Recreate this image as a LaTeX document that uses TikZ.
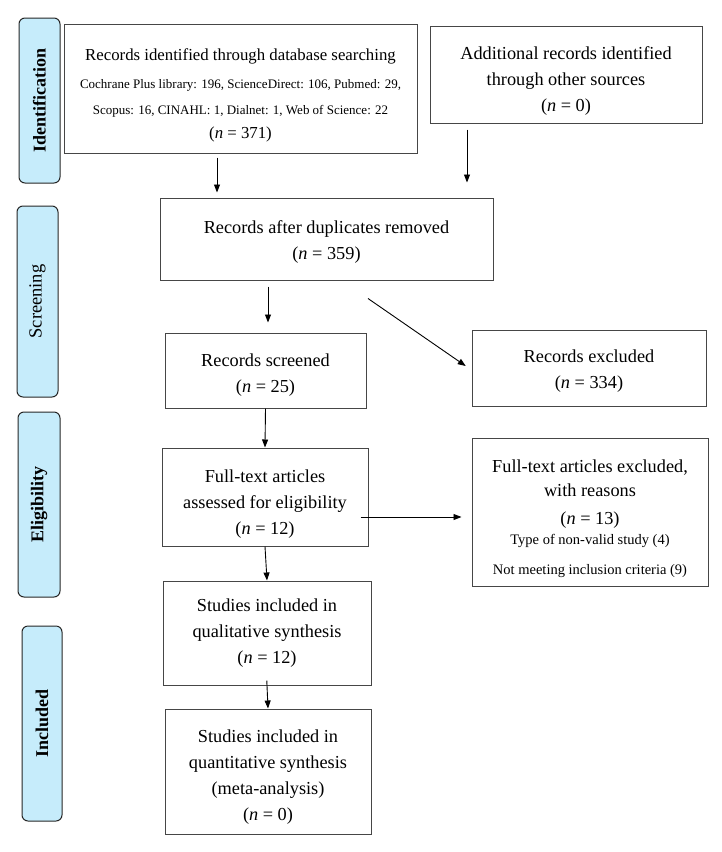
\documentclass[tikz,border=0pt]{standalone}
\usepackage{fontspec}
\setmainfont{Liberation Serif}
\usepackage{xcolor}
\usepackage{tikz}
\usetikzlibrary{arrows.meta,positioning,calc}
\definecolor{phasebg}{RGB}{198,236,251}
\definecolor{boxline}{RGB}{70,70,70}
\newcommand{\nval}[1]{(\textit{n} = #1)}
\newcommand{\smalltxt}{\fontsize{14.5}{26}\selectfont}
\newcommand{\lift}[1]{\rule{0pt}{#1}}

\begin{document}
\begin{tikzpicture}[x=1pt,y=-1pt,
    box/.style={draw=boxline, line width=1pt, align=center, inner sep=2pt, font=\fontsize{18.3}{26}\selectfont},
    phase/.style={draw=black!85, fill=phasebg, rounded corners=6pt, line width=1pt, rotate=90, font=\fontsize{18}{20}\selectfont\bfseries},
    arr/.style={-{Triangle[length=8pt,width=6pt]}, line width=0.9pt}]
    \useasboundingbox (0,0) rectangle (721,852);

    % Phases
    \node[phase, minimum width=165pt, minimum height=41pt] (pid) at (39.5,100.5) {Identification};
    \node[phase, minimum width=191pt, minimum height=41pt, font=\fontsize{18.5}{20}\selectfont] (pscr) at (37.5,301.5) {Screening};
    \node[phase, minimum width=185pt, minimum height=42pt] (pelig) at (39,504.5) {Eligibility};
    \node[phase, minimum width=195pt, minimum height=40pt] (pincl) at (42,723.5) {Included};

    % Identification
    \node[box, minimum width=353pt, minimum height=129pt, font=\fontsize{16.8}{26}\selectfont] (ident) at (240.5,88.5)
        {\lift{25.5pt}Records identified through database searching\\[2pt]
         {\fontsize{13}{26}\selectfont Cochrane Plus library: 196, ScienceDirect: 106, Pubmed: 29,}\\
         {\fontsize{13}{26}\selectfont Scopus: 16, CINAHL: 1, Dialnet: 1, Web of Science: 22}\\[-2pt]
         \nval{371}};
    \node[box, minimum width=272pt, minimum height=97pt] (addl) at (566,74.5)
        {\lift{26.5pt}Additional records identified\\through other sources\\\nval{0}};

    % Screening
    \node[box, minimum width=333pt, minimum height=82pt] (dup) at (326.5,239)
        {\lift{18.5pt}Records after duplicates removed\\\nval{359}};
    \node[box, minimum width=201pt, minimum height=75pt] (screened) at (265.5,370.5)
        {\lift{22.5pt}Records screened\\\nval{25}};
    \node[box, minimum width=234pt, minimum height=76pt] (excl) at (589,368)
        {\lift{18.5pt}Records excluded\\\nval{334}};

    % Eligibility
    \node[box, minimum width=206pt, minimum height=98pt] (full) at (265,497)
        {\lift{26.5pt}Full-text articles\\assessed for eligibility\\\nval{12}};
    \node[box, minimum width=236pt, minimum height=148pt] (fullex) at (590,512)
        {\lift{26.5pt}Full-text articles excluded,\\[-2pt]with reasons\\[2pt]\nval{13}\\[-6pt]
         {\smalltxt Type of non-valid study (4)}\\[4pt]
         {\smalltxt Not meeting inclusion criteria (9)}};

    % Included
    \node[box, minimum width=208pt, minimum height=104pt] (qual) at (267,633)
        {Studies included in\\qualitative synthesis\\\nval{12}};
    \node[box, minimum width=206pt, minimum height=125pt] (quant) at (268,771.5)
        {\lift{24.5pt}Studies included in\\quantitative synthesis\\(meta-analysis)\\\nval{0}};

    % Arrows
    \coordinate (c1) at ([xshift=-23.5pt]ident.south);
    \coordinate (c2) at ([xshift=-99pt]addl.south);
    \coordinate (c3) at ([xshift=-58.5pt]dup.south);
    \coordinate (c4) at ([xshift=41.5pt,yshift=-18pt]dup.south);
    \coordinate (c5) at ([xshift=-8pt,yshift=-20pt]full.east);
    \draw[arr, shorten <=4pt, shorten >=5pt] (c1) -- (c1 |- dup.north);
    \draw[arr, shorten <=6pt, shorten >=15pt] (c2) -- (c2 |- dup.north);
    \draw[arr, shorten <=6pt, shorten >=10pt] (c3) -- (c3 |- screened.north);
    \draw[arr, shorten >=7pt] (c4) -- ([yshift=-2pt]excl.west);
    \draw[arr] (screened.south) -- (full.north);
    \draw[arr, shorten >=10pt] (c5) -- (c5 -| fullex.west);
    \draw[arr] (full.south) -- (qual.north);
    \draw[arr, shorten <=-5pt] (qual.south) -- (quant.north);
\end{tikzpicture}
\end{document}
